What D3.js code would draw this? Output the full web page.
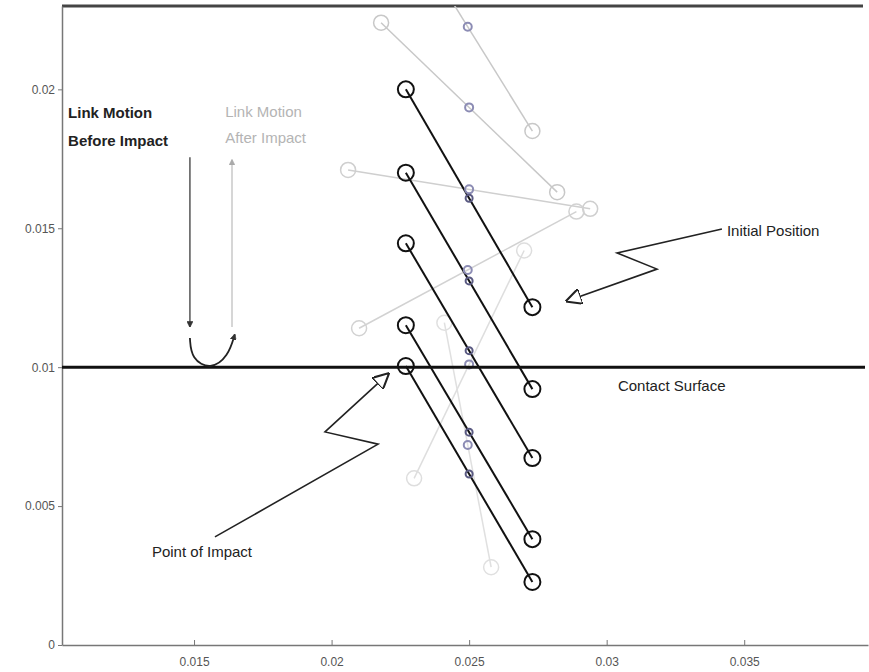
<!DOCTYPE html>
<html>
<head>
<meta charset="utf-8">
<script src="https://cdn.jsdelivr.net/npm/d3@7"></script>
<style>
  body { margin: 0; background: #fff; }
  svg text { font-family: "Liberation Sans", Arial, sans-serif; }
</style>
</head>
<body>
<svg id="chart" width="869" height="672"></svg>
<script>
// link positions before impact (black), end A = upper left, end B = lower right
const beforeX1 = [0.0227, 0.0227, 0.0227, 0.0227, 0.0227];
const beforeY1 = [0.0200, 0.0170, 0.01446, 0.01151, 0.01004];
const beforeX2 = [0.0273, 0.0273, 0.0273, 0.0273, 0.0273];
const beforeY2 = [0.01216, 0.00921, 0.00673, 0.00381, 0.00227];

// link positions after impact (grey)
const afterX1 = [0.0226, 0.0218, 0.0206, 0.0210, 0.0230, 0.0241];
const afterY1 = [0.0260, 0.0224, 0.0171, 0.0114, 0.0060, 0.0116];
const afterX2 = [0.0273, 0.0282, 0.0294, 0.0289, 0.0270, 0.0258];
const afterY2 = [0.0185, 0.0163, 0.0157, 0.0156, 0.0142, 0.0028];
const afterShade = ["#c8c8c8", "#c8c8c8", "#cfcfcf", "#d2d2d2", "#dedede", "#e0e0e0"];

const contactY = 0.01;
const xTicks = [0.015, 0.02, 0.025, 0.03, 0.035];
const yTicks = [0, 0.005, 0.01, 0.015, 0.02];
const xTickLabels = ["0.015", "0.02", "0.025", "0.03", "0.035"];
const yTickLabels = ["0", "0.005", "0.01", "0.015", "0.02"];

const svg = d3.select("#chart");
const x = d3.scaleLinear().domain([0.0102, 0.0395]).range([62, 868]);
const y = d3.scaleLinear().domain([0, 0.023]).range([645, 6]);

svg.append("defs").append("clipPath").attr("id", "plot")
    .append("rect")
    .attr("x", x.range()[0]).attr("y", y.range()[1])
    .attr("width", x.range()[1] - x.range()[0])
    .attr("height", y.range()[0] - y.range()[1]);

// frame
svg.append("line")
    .attr("x1", x.range()[0]).attr("x2", 863)
    .attr("y1", y.range()[1]).attr("y2", y.range()[1])
    .style("stroke", "#444").style("stroke-width", 3);

// axes
const xAxis = d3.axisBottom(x).tickValues(xTicks)
    .tickFormat((d, i) => xTickLabels[i]).tickSizeInner(-5).tickSizeOuter(0).tickPadding(12);
const gx = svg.append("g").attr("transform", `translate(0,${y.range()[0]})`).call(xAxis);
gx.select(".domain").style("stroke", "#777").style("stroke-width", 1.5);
gx.selectAll(".tick line").style("stroke", "#777");
gx.selectAll("text").style("font-size", "12px").style("fill", "#555")
    .style("font-family", "'Liberation Sans', Arial, sans-serif");

const yAxis = d3.axisLeft(y).tickValues(yTicks)
    .tickFormat((d, i) => yTickLabels[i]).tickSizeInner(4).tickSizeOuter(0).tickPadding(3);
const gy = svg.append("g").attr("transform", `translate(${x.range()[0]},0)`).call(yAxis);
gy.select(".domain").style("stroke", "#777").style("stroke-width", 1.5);
gy.selectAll(".tick line").style("stroke", "#777");
gy.selectAll("text").style("font-size", "12px").style("fill", "#555")
    .style("font-family", "'Liberation Sans', Arial, sans-serif");

const plot = svg.append("g").attr("clip-path", "url(#plot)");

// after impact links (grey)
const afterData = afterX1.map((d, i) => ({x1: d, y1: afterY1[i], x2: afterX2[i], y2: afterY2[i], c: afterShade[i]}));
plot.selectAll("line.after")
    .data(afterData)
    .join("line")
    .attr("class", "after")
    .attr("x1", d => x(d.x1)).attr("y1", d => y(d.y1))
    .attr("x2", d => x(d.x2)).attr("y2", d => y(d.y2))
    .style("stroke", d => d.c).style("stroke-width", 1.5);
plot.selectAll("circle.afterEnd")
    .data(afterData.flatMap(d => [{x: d.x1, y: d.y1, c: d.c}, {x: d.x2, y: d.y2, c: d.c}]))
    .join("circle")
    .attr("class", "afterEnd")
    .attr("cx", d => x(d.x)).attr("cy", d => y(d.y)).attr("r", 7.5)
    .style("fill", "none").style("stroke", d => d.c).style("stroke-width", 1.5);

// before impact links (black)
const beforeData = beforeX1.map((d, i) => ({x1: d, y1: beforeY1[i], x2: beforeX2[i], y2: beforeY2[i]}));
plot.selectAll("line.before")
    .data(beforeData)
    .join("line")
    .attr("class", "before")
    .attr("x1", d => x(d.x1)).attr("y1", d => y(d.y1))
    .attr("x2", d => x(d.x2)).attr("y2", d => y(d.y2))
    .style("stroke", "#111").style("stroke-width", 2);
plot.selectAll("circle.beforeEnd")
    .data(beforeData.flatMap(d => [{x: d.x1, y: d.y1}, {x: d.x2, y: d.y2}]))
    .join("circle")
    .attr("class", "beforeEnd")
    .attr("cx", d => x(d.x)).attr("cy", d => y(d.y)).attr("r", 8)
    .style("fill", "none").style("stroke", "#111").style("stroke-width", 2);

// link centres
plot.selectAll("circle.afterMid")
    .data(afterData)
    .join("circle")
    .attr("class", "afterMid")
    .attr("cx", d => x((d.x1 + d.x2) / 2)).attr("cy", d => y((d.y1 + d.y2) / 2)).attr("r", 4)
    .style("fill", "none").style("stroke", "#8c8cb4").style("stroke-width", 2);
plot.selectAll("circle.beforeMid")
    .data(beforeData)
    .join("circle")
    .attr("class", "beforeMid")
    .attr("cx", d => x((d.x1 + d.x2) / 2)).attr("cy", d => y((d.y1 + d.y2) / 2)).attr("r", 3.5)
    .style("fill", "none").style("stroke", "#5a5a82").style("stroke-width", 2);

// contact surface
svg.append("line")
    .attr("x1", x.range()[0]).attr("x2", 865)
    .attr("y1", y(contactY)).attr("y2", y(contactY))
    .style("stroke", "#111").style("stroke-width", 3);

// annotations
const defs = svg.select("defs");
function marker(id, color, filled) {
    defs.append("marker").attr("id", id)
        .attr("viewBox", "0 0 10 10").attr("refX", 9).attr("refY", 5)
        .attr("markerWidth", filled ? 6 : 9).attr("markerHeight", filled ? 6 : 9)
        .attr("markerUnits", "userSpaceOnUse")
        .attr("orient", "auto")
        .append("path").attr("d", "M0,0 L10,5 L0,10 z")
        .style("fill", filled ? color : "#fff").style("stroke", color).style("stroke-width", filled ? 1 : 1.3);
}
marker("headDark", "#333", true);
marker("headGrey", "#aaa", true);
marker("headOpen", "#222", false);
marker("headOpenBig", "#222", false);
defs.select("#headOpenBig").attr("markerWidth", 16).attr("markerHeight", 16);

const textLines = [
    {t: "Link Motion", x: 0.01042, y: 0.01897, c: "#222", w: "bold"},
    {t: "Before Impact", x: 0.01042, y: 0.01796, c: "#222", w: "bold"},
    {t: "Link Motion", x: 0.01613, y: 0.0190, c: "#b4b4b4", w: "normal"},
    {t: "After Impact", x: 0.01613, y: 0.01807, c: "#b4b4b4", w: "normal"},
    {t: "Initial Position", x: 0.03437, y: 0.01472, c: "#222", w: "normal"},
    {t: "Contact Surface", x: 0.03041, y: 0.00914, c: "#222", w: "normal"},
    {t: "Point of Impact", x: 0.01347, y: 0.00317, c: "#222", w: "normal"}
];
svg.selectAll("text.note")
    .data(textLines)
    .join("text")
    .attr("class", "note")
    .attr("x", d => x(d.x)).attr("y", d => y(d.y))
    .text(d => d.t)
    .style("font-size", "15px")
    .style("font-weight", d => d.w)
    .style("fill", d => d.c);

const line = d3.line().x(d => x(d[0])).y(d => y(d[1]));
// vertical motion arrows
svg.append("path")
    .attr("d", line([[0.01485, 0.01756], [0.01485, 0.01145]]))
    .style("stroke", "#555").style("stroke-width", 1.5).style("fill", "none")
    .attr("marker-end", "url(#headDark)");
svg.append("path")
    .attr("d", line([[0.01638, 0.01145], [0.01638, 0.01746]]))
    .style("stroke", "#bbb").style("stroke-width", 1.2).style("fill", "none")
    .attr("marker-end", "url(#headGrey)");
// bounce
svg.append("path")
    .attr("d", d3.line().curve(d3.curveBasis).x(d => x(d[0])).y(d => y(d[1]))(
        [[0.01485, 0.01105], [0.01490, 0.01030], [0.01560, 0.00990], [0.01625, 0.01040], [0.01648, 0.01118]]))
    .style("stroke", "#222").style("stroke-width", 1.8).style("fill", "none")
    .attr("marker-end", "url(#headDark)");

// zigzag pointers
svg.append("path")
    .attr("d", line([[0.03419, 0.01497], [0.03038, 0.01411], [0.03183, 0.01353], [0.02856, 0.01238]]))
    .style("stroke", "#222").style("stroke-width", 1.6).style("fill", "none")
    .attr("marker-end", "url(#headOpenBig)");
svg.append("path")
    .attr("d", line([[0.01576, 0.00389], [0.02169, 0.00723], [0.01976, 0.00767], [0.02205, 0.00975]]))
    .style("stroke", "#222").style("stroke-width", 1.6).style("fill", "none")
    .attr("marker-end", "url(#headOpenBig)");
</script>
</body>
</html>
